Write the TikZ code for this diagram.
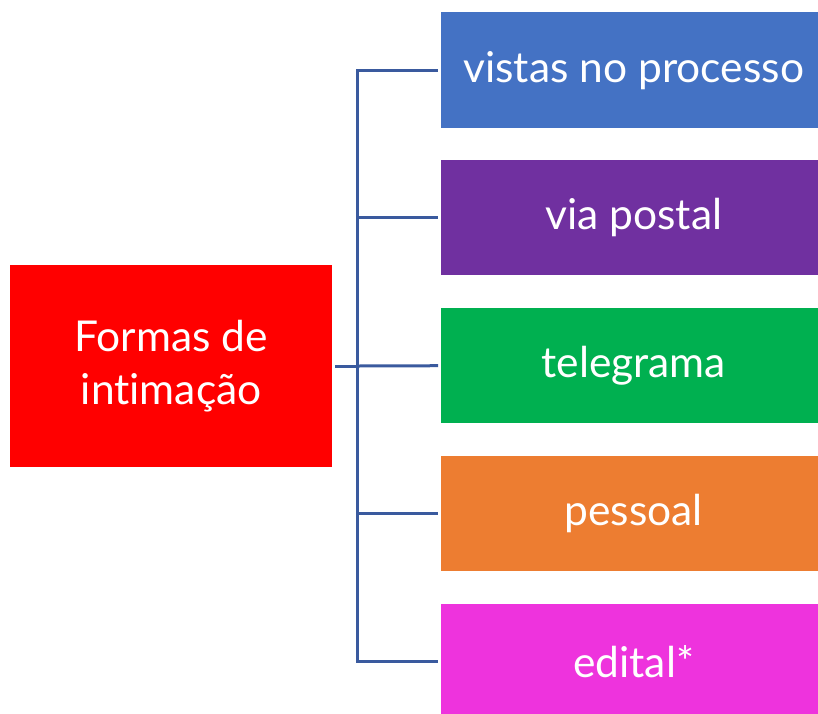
\documentclass[tikz,border=0pt]{standalone}
\usepackage{fontspec}
\setmainfont[Ligatures=NoCommon]{Lato}
\definecolor{cblue}{HTML}{4472C4}
\definecolor{cpurple}{HTML}{7030A0}
\definecolor{cgreen}{HTML}{00B050}
\definecolor{corange}{HTML}{ED7D31}
\definecolor{cmagenta}{HTML}{EE33DD}
\definecolor{cred}{HTML}{FF0000}
\definecolor{cline}{HTML}{3A5A9E}
\begin{document}
\begin{tikzpicture}[x=1pt,y=-1pt,
  box/.style={draw=none,inner sep=0pt,text=white,font=\fontsize{42.5}{53}\selectfont,align=center,anchor=north west},
  conn/.style={draw=cline,line width=3pt}]
\useasboundingbox (0,0) rectangle (818,713);
\clip (0,0) rectangle (818,713);
\node[box,fill=cred,minimum width=322pt,minimum height=202pt] (src) at (10,265) {Formas de\\intimação};
\node[box,fill=cblue,minimum width=385pt,minimum height=116pt] (b1) at (441,12) {vistas no processo};
\node[box,fill=cpurple,minimum width=385pt,minimum height=115pt] (b2) at (441,160) {via postal};
\node[box,fill=cgreen,minimum width=385pt,minimum height=115pt] (b3) at (441,308) {telegrama};
\node[box,fill=corange,minimum width=385pt,minimum height=115pt] (b4) at (441,456) {pessoal};
\node[box,fill=cmagenta,minimum width=385pt,minimum height=115pt] (b5) at (441,604) {edital*};
\coordinate (hub) at (357,366);
\draw[conn,shorten <=3pt] (src.east |- hub) -- (hub);
\draw[conn,shorten >=3pt] (hub) |- (b1.west);
\draw[conn,shorten >=3pt] (hub) |- (b2.west);
\draw[conn,shorten >=3pt] (hub) -- (b3.west);
\draw[conn,shorten >=3pt] (hub) |- (b4.west);
\draw[conn,shorten >=3pt] (hub) |- (b5.west);
\end{tikzpicture}
\end{document}
